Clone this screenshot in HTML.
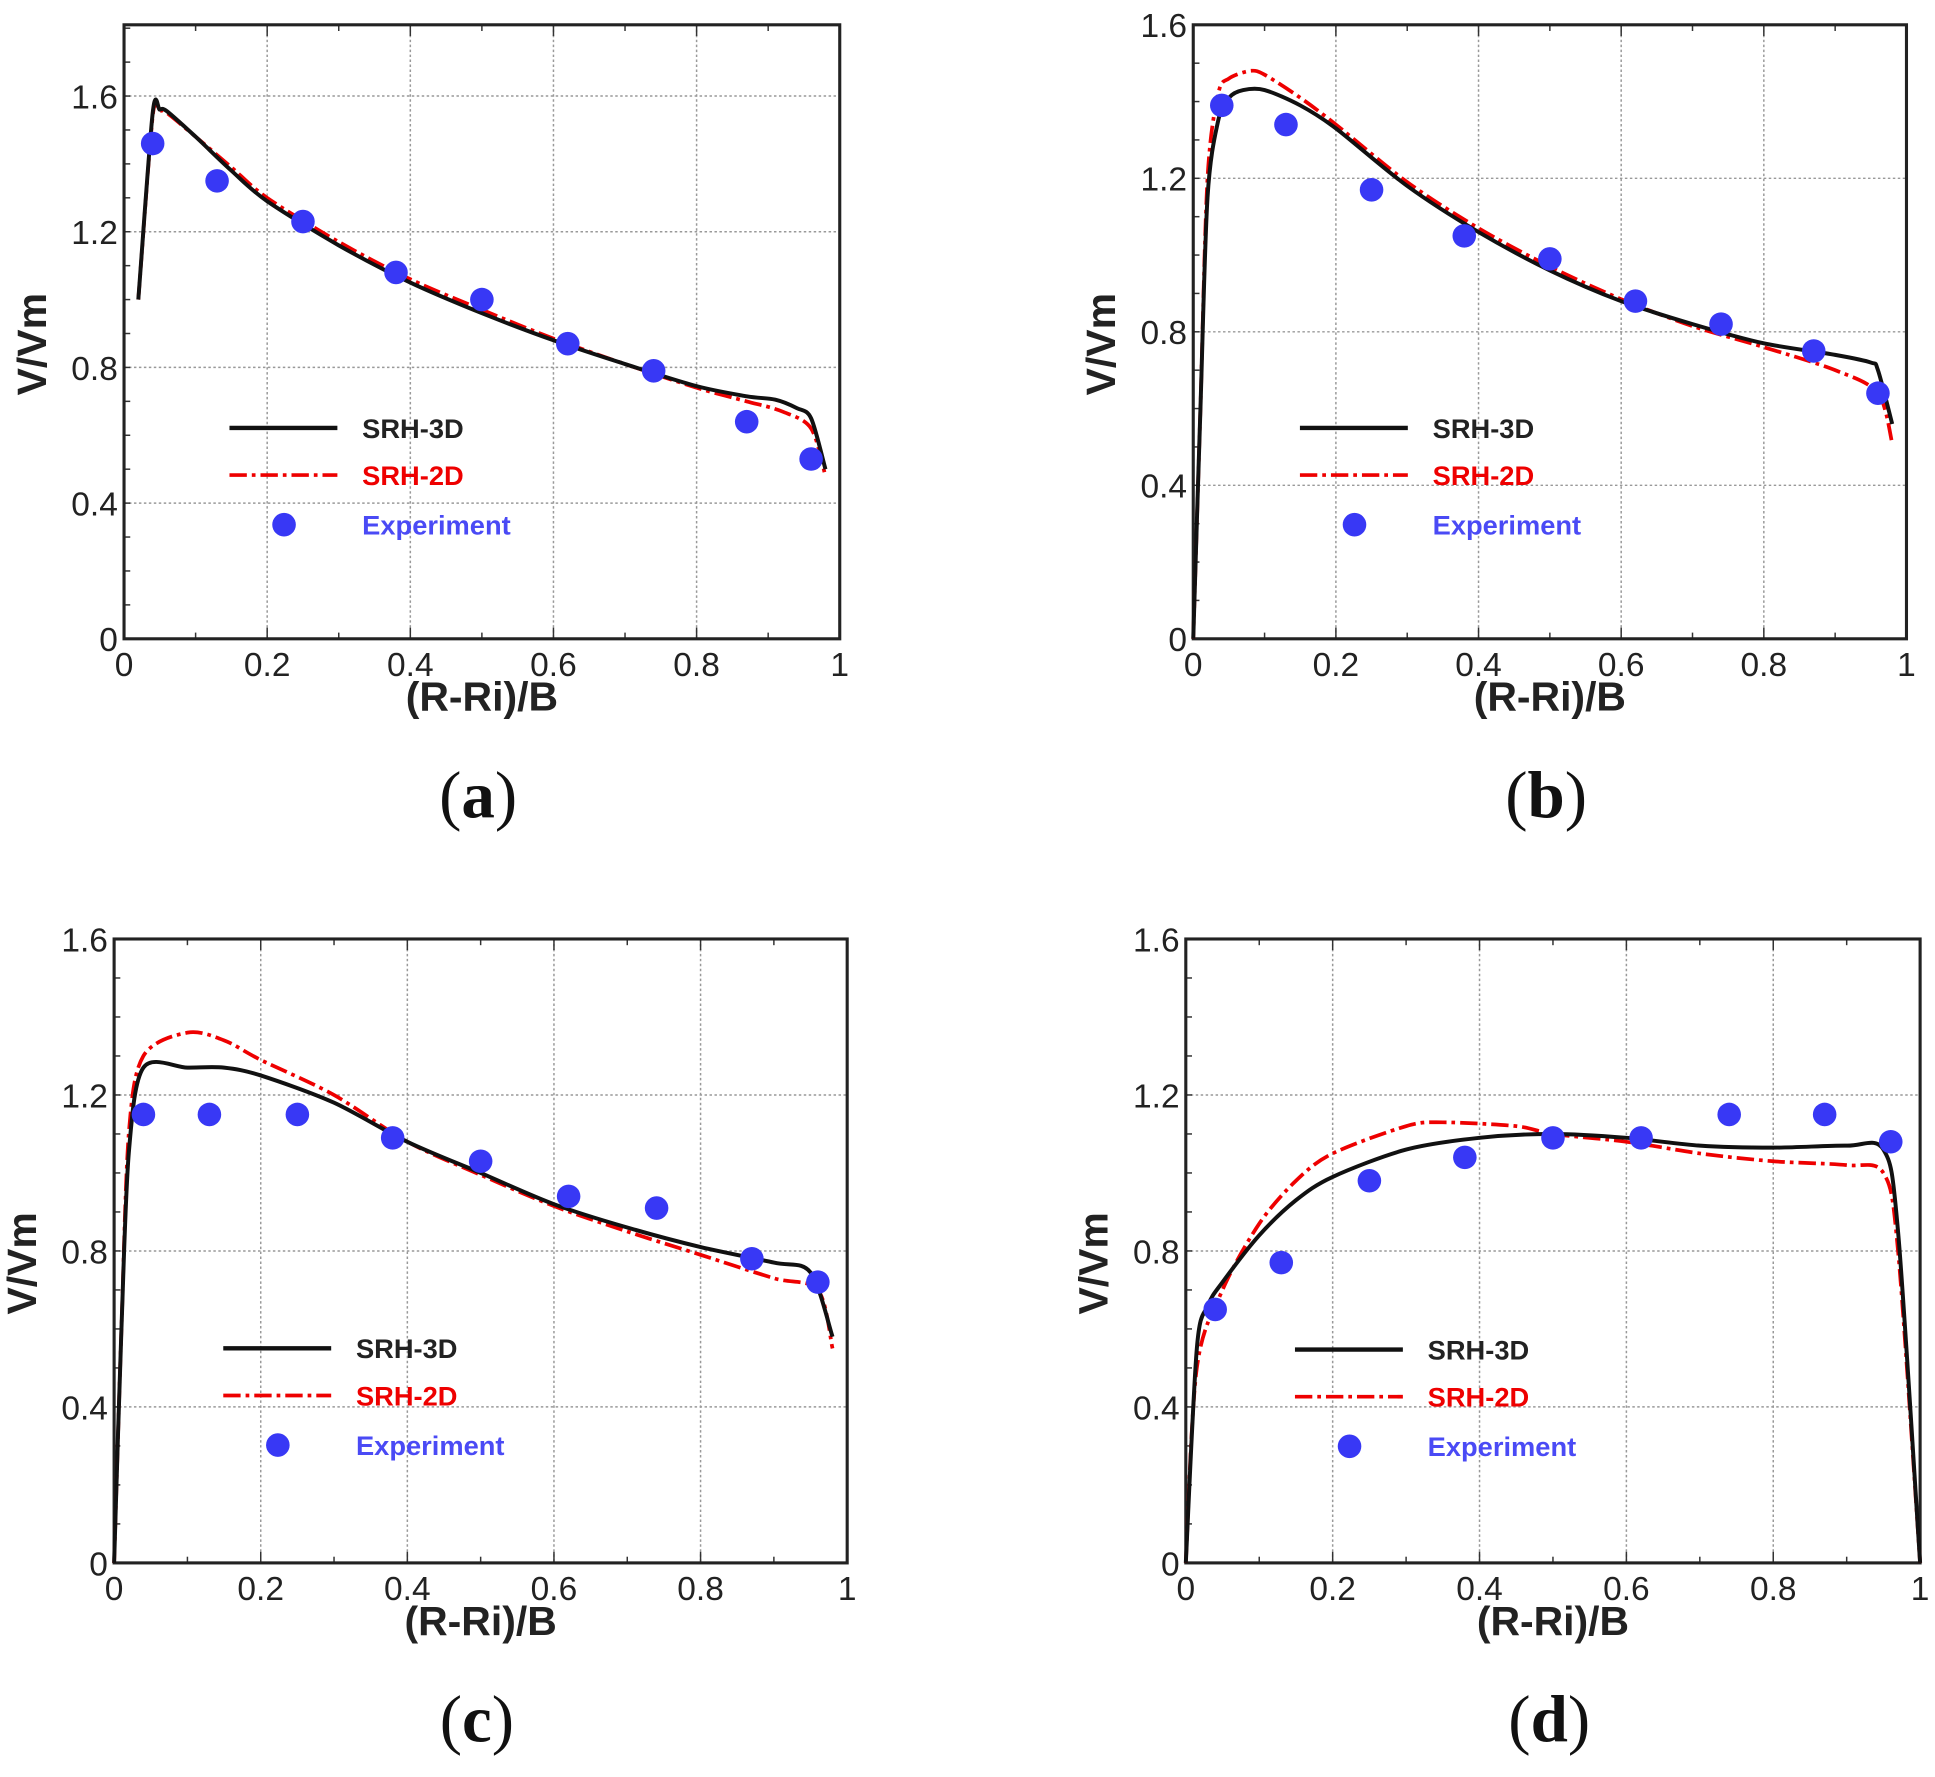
<!DOCTYPE html>
<html><head><meta charset="utf-8"><style>
html,body{margin:0;padding:0;background:#fff}
svg{display:block}
</style></head><body>
<svg id="s" width="1935" height="1777" viewBox="0 0 1560 1432.6" preserveAspectRatio="none" xmlns="http://www.w3.org/2000/svg"></svg>
<script>
const S=document.getElementById('s');let h='';
const panels=[
{L:100,R:677,T:20,B:515,ymax:1.81,yt:[0,0.4,0.8,1.2,1.6],lab:'(a)',lx:185,ly:345,
s3:[[0.02,1.0],[0.04,1.55],[0.05,1.56],[0.06,1.555],[0.1,1.48],[0.15,1.38],[0.2,1.29],[0.3,1.16],[0.4,1.05],[0.5,0.96],[0.6,0.88],[0.7,0.81],[0.8,0.745],[0.87,0.715],[0.91,0.705],[0.94,0.68],[0.96,0.65],[0.98,0.5]],
s2:[[0.02,1.0],[0.04,1.54],[0.05,1.555],[0.06,1.55],[0.1,1.48],[0.15,1.39],[0.2,1.3],[0.3,1.17],[0.4,1.06],[0.5,0.97],[0.6,0.885],[0.7,0.81],[0.8,0.74],[0.87,0.7],[0.92,0.67],[0.96,0.62],[0.98,0.48]],
ex:[[0.04,1.46],[0.13,1.35],[0.25,1.23],[0.38,1.08],[0.5,1.0],[0.62,0.87],[0.74,0.79],[0.87,0.64],[0.96,0.53]]},
{L:962,R:1537,T:20,B:515,ymax:1.6,yt:[0,0.4,0.8,1.2,1.6],lab:'(b)',lx:1048,ly:345,
s3:[[0,0],[0.01,0.6],[0.02,1.15],[0.035,1.35],[0.05,1.41],[0.07,1.43],[0.1,1.43],[0.15,1.39],[0.2,1.33],[0.3,1.18],[0.4,1.06],[0.5,0.96],[0.6,0.88],[0.7,0.82],[0.8,0.77],[0.9,0.74],[0.95,0.72],[0.96,0.7],[0.98,0.56]],
s2:[[0,0],[0.01,0.6],[0.02,1.2],[0.035,1.42],[0.05,1.46],[0.08,1.48],[0.1,1.47],[0.15,1.41],[0.2,1.34],[0.3,1.19],[0.4,1.07],[0.5,0.97],[0.6,0.885],[0.7,0.815],[0.8,0.76],[0.9,0.7],[0.96,0.64],[0.98,0.51]],
ex:[[0.04,1.39],[0.13,1.34],[0.25,1.17],[0.38,1.05],[0.5,0.99],[0.62,0.88],[0.74,0.82],[0.87,0.75],[0.96,0.64]]},
{L:92,R:683,T:757,B:1260,ymax:1.6,yt:[0,0.4,0.8,1.2,1.6],lab:'(c)',lx:180,ly:1087,
s3:[[0,0],[0.01,0.6],[0.02,1.05],[0.04,1.27],[0.1,1.27],[0.15,1.27],[0.2,1.25],[0.3,1.18],[0.4,1.08],[0.5,1.0],[0.6,0.92],[0.7,0.86],[0.8,0.81],[0.9,0.77],[0.95,0.745],[0.98,0.58]],
s2:[[0,0],[0.01,0.6],[0.02,1.1],[0.04,1.3],[0.1,1.36],[0.15,1.34],[0.2,1.29],[0.3,1.2],[0.4,1.08],[0.5,0.995],[0.6,0.915],[0.7,0.85],[0.8,0.79],[0.9,0.73],[0.96,0.7],[0.98,0.55]],
ex:[[0.04,1.15],[0.13,1.15],[0.25,1.15],[0.38,1.09],[0.5,1.03],[0.62,0.94],[0.74,0.91],[0.87,0.78],[0.96,0.72]]},
{L:956,R:1548,T:757,B:1260,ymax:1.6,yt:[0,0.4,0.8,1.2,1.6],lab:'(d)',lx:1044,ly:1088,
s3:[[0,0],[0.015,0.55],[0.03,0.66],[0.05,0.72],[0.1,0.84],[0.15,0.93],[0.2,0.99],[0.3,1.06],[0.4,1.09],[0.5,1.1],[0.6,1.09],[0.7,1.07],[0.8,1.065],[0.9,1.07],[0.95,1.06],[0.97,0.85],[1.0,0]],
s2:[[0,0],[0.015,0.5],[0.05,0.7],[0.1,0.87],[0.15,0.98],[0.2,1.05],[0.3,1.12],[0.35,1.13],[0.45,1.12],[0.5,1.1],[0.6,1.08],[0.7,1.05],[0.8,1.03],[0.9,1.02],[0.95,1.0],[0.97,0.8],[1.0,0]],
ex:[[0.04,0.65],[0.13,0.77],[0.25,0.98],[0.38,1.04],[0.5,1.09],[0.62,1.09],[0.74,1.15],[0.87,1.15],[0.96,1.08]]}];
const F='font-family="Liberation Sans, Arial, sans-serif"';
function smooth(P){let d='M'+P[0][0].toFixed(1)+','+P[0][1].toFixed(1);
 for(let i=0;i<P.length-1;i++){const p0=P[Math.max(i-1,0)],p1=P[i],p2=P[i+1],p3=P[Math.min(i+2,P.length-1)];
  const t=0.15;const c1=[p1[0]+(p2[0]-p0[0])*t,p1[1]+(p2[1]-p0[1])*t],c2=[p2[0]-(p3[0]-p1[0])*t,p2[1]-(p3[1]-p1[1])*t];
  d+=` C${c1[0].toFixed(1)},${c1[1].toFixed(1)} ${c2[0].toFixed(1)},${c2[1].toFixed(1)} ${p2[0].toFixed(1)},${p2[1].toFixed(1)}`;}
 return d;}
for(const p of panels){
 const X=v=>p.L+v*(p.R-p.L), Y=v=>p.B-v/p.ymax*(p.B-p.T);
 for(let i=2;i<10;i+=2){ h+=`<line x1="${X(i/10)}" y1="${p.T}" x2="${X(i/10)}" y2="${p.B}" stroke="#999" stroke-width="1.2" stroke-dasharray="2,2"/>`;}
 for(const t of p.yt){ if(t>0&&Y(t)>p.T+2) h+=`<line x1="${p.L}" y1="${Y(t)}" x2="${p.R}" y2="${Y(t)}" stroke="#999" stroke-width="1.2" stroke-dasharray="2,2"/>`;}
 for(let i=1;i<10;i++){const x=X(i/10);h+=`<line x1="${x}" y1="${p.B}" x2="${x}" y2="${p.B-(i%2?5:9)}" stroke="#333" stroke-width="1.2"/><line x1="${x}" y1="${p.T}" x2="${x}" y2="${p.T+(i%2?5:9)}" stroke="#333" stroke-width="1.2"/>`;}
 for(let v=0.1;v<p.ymax;v+=0.1){const y=Y(v);h+=`<line x1="${p.L}" y1="${y}" x2="${p.L+5}" y2="${y}" stroke="#333" stroke-width="1.2"/>`;}
 h+=`<rect x="${p.L}" y="${p.T}" width="${p.R-p.L}" height="${p.B-p.T}" fill="none" stroke="#222" stroke-width="2.5"/>`;
 for(const t of p.yt){h+=`<text x="${p.L-5}" y="${Y(t)+10}" text-anchor="end" font-size="27" fill="#222" ${F}>${t==0?'0':t}</text>`;}
 ['0','0.2','0.4','0.6','0.8','1'].forEach((s,i)=>{h+=`<text x="${X(i*0.2)}" y="${p.B+30}" text-anchor="middle" font-size="27" fill="#222" ${F}>${s}</text>`;});
 const cx=(p.L+p.R)/2;
 h+=`<text x="${cx}" y="${p.B+58}" text-anchor="middle" font-size="33" font-weight="bold" fill="#222" ${F}>(R-Ri)/B</text>`;
 const my=(p.T+p.B)/2+10;
 h+=`<text transform="translate(${p.L-63},${my}) rotate(-90)" text-anchor="middle" font-size="33" font-weight="bold" fill="#222" ${F}>V/Vm</text>`;
 h+=`<text x="${(p.L+p.R)/2-3}" y="${p.B+144}" text-anchor="middle" font-size="54" fill="#111" font-family="Liberation Serif, serif">(<tspan font-weight="bold">${p.lab[1]}</tspan>)</text>`;
 const pts=a=>a.map(q=>[X(q[0]),Y(q[1])]);
 h+=`<path d="${smooth(pts(p.s2))}" fill="none" stroke="#e00" stroke-width="3" stroke-dasharray="14,4,3,4"/>`;
 h+=`<path d="${smooth(pts(p.s3))}" fill="none" stroke="#111" stroke-width="3.2"/>`;
 for(const q of p.ex) h+=`<circle cx="${X(q[0])}" cy="${Y(q[1])}" r="9.5" fill="#3838f5"/>`;
 const lx=p.lx,ly=p.ly;
 h+=`<line x1="${lx}" y1="${ly}" x2="${lx+87}" y2="${ly}" stroke="#111" stroke-width="3.5"/>`;
 h+=`<line x1="${lx}" y1="${ly+38}" x2="${lx+87}" y2="${ly+38}" stroke="#e00" stroke-width="3" stroke-dasharray="14,4,3,4"/>`;
 h+=`<circle cx="${lx+44}" cy="${ly+78}" r="9.5" fill="#3838f5"/>`;
 h+=`<text x="${lx+107}" y="${ly+8}" font-size="22" font-weight="bold" fill="#222" ${F}>SRH-3D</text>`;
 h+=`<text x="${lx+107}" y="${ly+46}" font-size="22" font-weight="bold" fill="#e00" ${F}>SRH-2D</text>`;
 h+=`<text x="${lx+107}" y="${ly+86}" font-size="22" font-weight="bold" fill="#4a4af5" ${F}>Experiment</text>`;
}
S.innerHTML=h;
</script>
</body></html>
